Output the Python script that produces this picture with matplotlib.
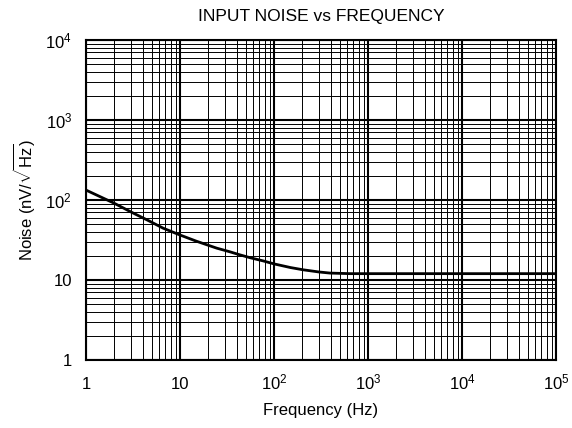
import numpy as np
import matplotlib
matplotlib.use("Agg")
import matplotlib.pyplot as plt
from matplotlib.ticker import LogLocator, FixedLocator, FixedFormatter, NullFormatter

plt.rcParams['font.family'] = ['Liberation Sans', 'DejaVu Sans']
plt.rcParams['mathtext.fontset'] = 'custom'
plt.rcParams['mathtext.rm'] = 'Liberation Sans'
plt.rcParams['mathtext.it'] = 'Liberation Sans'
plt.rcParams['mathtext.default'] = 'regular'

# data
freq = [1, 2, 3, 4.8, 6.6, 10, 15, 24.6, 34, 43.5, 55.6, 77, 100, 150, 205, 300, 394, 645, 1000, 1e4, 1e5]
noise = [133, 91, 71, 54, 44.5, 36.5, 30.5, 25, 22.5, 20.6, 19, 17.3, 15.9, 14.3, 13.4, 12.6, 12.2, 12.0, 12.0, 12.0, 12.0]

xticks = [1, 10, 100, 1e3, 1e4, 1e5]
xlabels = ['1', '10', '10$^2$', '10$^3$', '10$^4$', '10$^5$']
yticks = [1, 10, 100, 1e3, 1e4]
ylabels = ['1', '10', '10$^2$', '10$^3$', '10$^4$']

fig = plt.figure(figsize=(5.72, 4.28), dpi=100)
ax = fig.add_axes([0.1503, 0.1589, 0.8217, 0.7477])

ax.set_xscale('log')
ax.set_yscale('log')
ax.set_xlim(1, 1e5)
ax.set_ylim(1, 1e4)

ax.xaxis.set_major_locator(FixedLocator(xticks))
ax.xaxis.set_major_formatter(FixedFormatter(xlabels))
ax.yaxis.set_major_locator(FixedLocator(yticks))
ax.yaxis.set_major_formatter(FixedFormatter(ylabels))
ax.xaxis.set_minor_locator(LogLocator(base=10, subs=np.arange(2, 10), numticks=20))
ax.yaxis.set_minor_locator(LogLocator(base=10, subs=np.arange(2, 10), numticks=20))
ax.xaxis.set_minor_formatter(NullFormatter())
ax.yaxis.set_minor_formatter(NullFormatter())

ax.grid(which='major', color='black', linewidth=1.5)
ax.grid(which='minor', color='black', linewidth=0.7)
ax.tick_params(which='both', length=0, labelsize=12)
ax.tick_params(axis='x', pad=21)
ax.tick_params(axis='y', pad=10)
for lbl in ax.get_xticklabels():
    lbl.set_verticalalignment('baseline')
for s in ax.spines.values():
    s.set_linewidth(1.5)

ax.plot(freq, noise, color='black', linewidth=2, solid_capstyle='round', zorder=3)

ax.set_title('INPUT NOISE vs FREQUENCY', fontsize=12.5, pad=13.5)
ax.set_xlabel('Frequency (Hz)', fontsize=12, labelpad=8)
ax.set_ylabel(r'Noise (nV/$\sqrt{Hz}$)', fontsize=12, labelpad=6)

fig.savefig('out.png', dpi=100)
